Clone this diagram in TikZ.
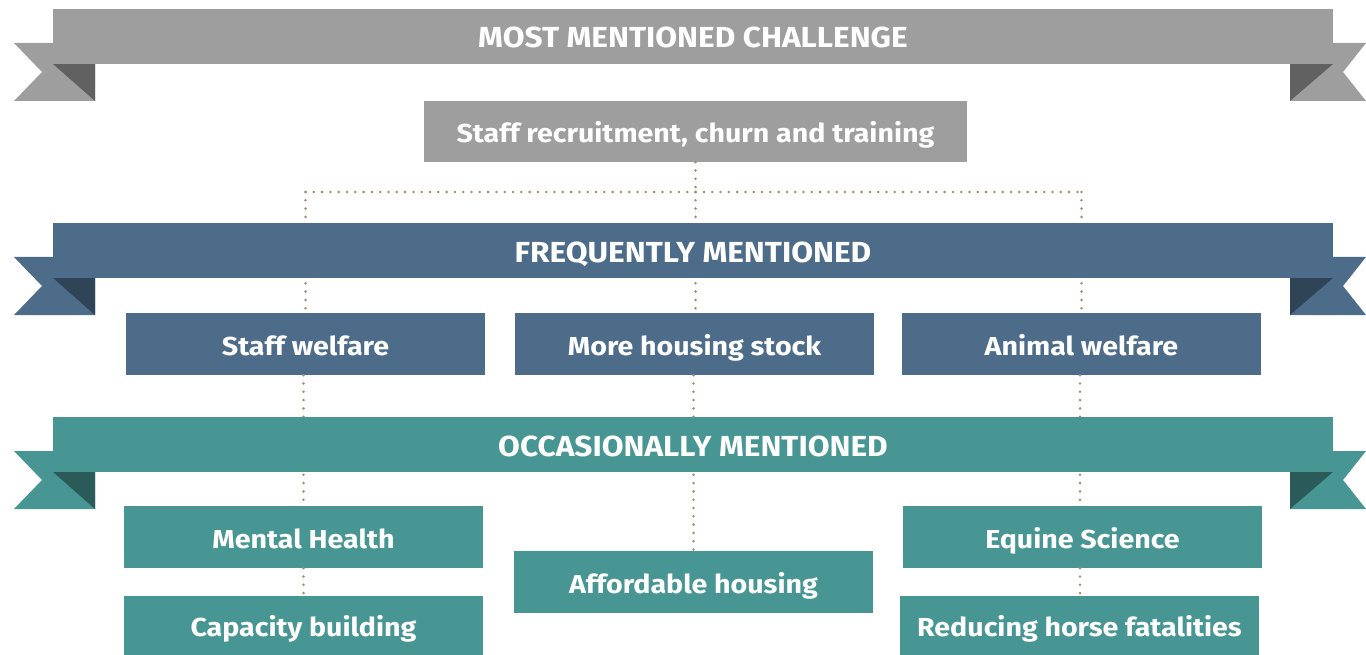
\documentclass[tikz,border=0pt]{standalone}
\usepackage{fontspec}
\setmainfont{Fira Sans}
\newfontfamily\boxfont[FakeStretch=1.1]{Fira Sans}
\newfontfamily\headfont[FakeStretch=1.09]{Fira Sans}
\definecolor{grayA}{HTML}{9E9E9E}
\definecolor{grayD}{HTML}{616161}
\definecolor{blueA}{HTML}{4D6C8A}
\definecolor{blueD}{HTML}{2F4457}
\definecolor{tealA}{HTML}{479693}
\definecolor{tealD}{HTML}{2B5B58}
\definecolor{dotc}{HTML}{A48C6A}
\newcommand{\myribbon}[3]{%
  % #1 top y, #2 main colour, #3 dark colour
  \fill[#2] (14,#1+34) -- (95,#1+34) -- (95,#1+92) -- (14,#1+92) -- (42,#1+63) -- cycle;
  \fill[#3] (53,#1+55) -- (95,#1+55) -- (95,#1+92) -- cycle;
  \fill[#2] (1366,#1+34) -- (1290,#1+34) -- (1290,#1+92) -- (1366,#1+92) -- (1343,#1+63) -- cycle;
  \fill[#3] (1333,#1+55) -- (1290,#1+55) -- (1290,#1+92) -- cycle;
}
\begin{document}
\begin{tikzpicture}[x=1pt,y=-1pt,
  band/.style={fill=#1, minimum width=1280pt, minimum height=55pt, inner sep=0pt,
    text height=23pt, text depth=0pt,
    text=white, font=\headfont\fontsize{29}{32}\selectfont\bfseries},
  box/.style={fill=#1, minimum width=359pt, minimum height=62pt, inner sep=0pt,
    text height=22pt, text depth=0pt,
    text=white, font=\boxfont\fontsize{26}{30}\selectfont\bfseries},
  dotline/.style={dotc, line width=2.8pt, line cap=round, dash pattern=on 0pt off 8.3pt}
]
\useasboundingbox (0,0) rectangle (1366,655);
% boxes
\node[box=grayA, minimum width=543pt, minimum height=61pt] (top) at (695.5,131.5) {Staff recruitment, churn and training};
\node[box=blueA] (sw) at (305.5,344) {Staff welfare};
\node[box=blueA] (mhs) at (694.5,344) {More housing stock};
\node[box=blueA] (aw) at (1081.5,344) {Animal welfare};
\node[box=tealA] (mental) at (303.5,537) {Mental Health};
\node[box=tealA, minimum height=59pt] (cap) at (303.5,625.5) {Capacity building};
\node[box=tealA] (afford) at (693.5,582) {Affordable housing};
\node[box=tealA] (equine) at (1082.5,537) {Equine Science};
\node[box=tealA, minimum height=59pt] (reduce) at (1079.5,625.5) {Reducing horse fatalities};
% junctions
\coordinate (jc) at (top.south |- 0,192);
\coordinate (jl) at (sw.north |- 0,192);
\coordinate (jr) at (aw.north |- 0,192);
% dotted connectors (behind the bands)
\draw[dotline] (top.south) -- (jc);
\draw[dotline] (jl) -- (jr);
\draw[dotline] (jl) -- (sw.north);
\draw[dotline] (jc) -- (jc |- mhs.north);
\draw[dotline] (jr) -- (aw.north);
\draw[dotline] (sw.south -| mental.north) -- (mental.north);
\draw[dotline] (mhs.south -| afford.north) -- (afford.north);
\draw[dotline] (aw.south -| 1080,0) -- (equine.north -| 1080,0);
\draw[dotline] (mental.south) -- (cap.north);
\draw[dotline] (equine.south -| 1080,0) -- (reduce.north -| 1080,0);
% ribbons
\myribbon{9}{grayA}{grayD}
\myribbon{223}{blueA}{blueD}
\myribbon{417}{tealA}{tealD}
\node[band=grayA] (h1) at (693,36.5) {MOST MENTIONED CHALLENGE};
\node[band=blueA] (h2) at (693,250.5) {FREQUENTLY MENTIONED};
\node[band=tealA] (h3) at (693,444.5) {OCCASIONALLY MENTIONED};
\end{tikzpicture}
\end{document}
